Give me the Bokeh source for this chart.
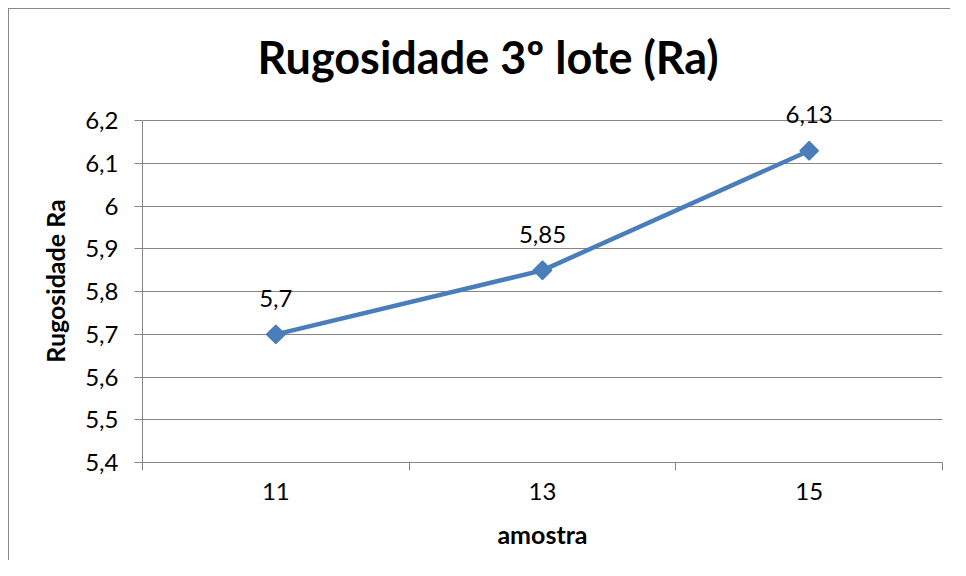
import math
from bokeh.plotting import figure
from bokeh.models import (Range1d, FixedTicker, CustomJSTickFormatter, ColumnDataSource, LabelSet)
from bokeh.core.properties import value
from bokeh.embed import file_html
from bokeh.resources import INLINE

title_text = "Rugosidade 3º lote (Ra)"
categories = ["11", "13", "15"]
values = [5.7, 5.85, 6.13]
y_ticks = [5.4, 5.5, 5.6, 5.7, 5.8, 5.9, 6.0, 6.1, 6.2]
x_label = "amostra"
y_label = "Rugosidade Ra"

FONT = "Lato"
GRAY = "#868686"
BLUE = "#4a7ebb"

xs = list(range(len(categories)))
labels = [str(v).replace(".", ",") for v in values]
src = ColumnDataSource(dict(x=xs, y=values, label=labels))

p = figure(width=950, height=560, output_backend="svg", toolbar_location=None,
           x_range=Range1d(-0.5, len(categories) - 0.5),
           y_range=Range1d(y_ticks[0], y_ticks[-1] + 0.05),
           min_border_left=142, min_border_right=8, min_border_top=99, min_border_bottom=98)
p.outline_line_color = None
p.background_fill_color = "white"
p.border_fill_color = None

# outer chart border (left and top visible), drawn behind the transparent canvas
p.styles = {
    "background-color": "white",
    "background-image": "linear-gradient(#888888, #888888), linear-gradient(#888888, #888888)",
    "background-size": "1px 100%, 100% 1px",
    "background-position": "8px 8px, 8px 8px",
    "background-repeat": "no-repeat",
}

p.title.text = title_text
p.title.text_font = FONT
p.title.text_font_style = "bold"
p.title.text_font_size = "45px"
p.title.align = "left"
p.title.offset = 115
p.title.standoff = 31
p.title.text_color = "black"

# x axis
xa = p.xaxis[0]
xa.ticker = FixedTicker(ticks=xs, minor_ticks=[i - 0.5 for i in range(len(categories) + 1)])
xa.major_label_overrides = {i: c for i, c in enumerate(categories)}
xa.major_tick_line_color = None
xa.minor_tick_line_color = GRAY
xa.minor_tick_out = 8
xa.minor_tick_in = 0
xa.axis_line_color = GRAY
xa.major_label_text_font = FONT
xa.major_label_text_font_size = "24px"
xa.major_label_text_color = "black"
xa.major_label_standoff = 12
xa.axis_label = x_label
xa.axis_label_text_font = FONT
xa.axis_label_text_font_size = "25px"
xa.axis_label_text_font_style = "bold"
xa.axis_label_text_color = "black"
xa.axis_label_standoff = 16

# y axis
ya = p.yaxis[0]
ya.bounds = (y_ticks[0], y_ticks[-1])
ya.ticker = FixedTicker(ticks=y_ticks, minor_ticks=[])
ya.formatter = CustomJSTickFormatter(code="return (Math.round(tick*10)/10).toString().replace('.', ',');")
ya.major_tick_line_color = GRAY
ya.major_tick_out = 8
ya.major_tick_in = 0
ya.axis_line_color = GRAY
ya.major_label_text_font = FONT
ya.major_label_text_font_size = "24px"
ya.major_label_text_color = "black"
ya.major_label_standoff = 16
ya.axis_label = y_label
ya.axis_label_text_font = FONT
ya.axis_label_text_font_size = "25px"
ya.axis_label_text_font_style = "bold"
ya.axis_label_text_color = "black"
ya.axis_label_standoff = 12

p.xgrid.grid_line_color = None
p.ygrid.ticker = FixedTicker(ticks=y_ticks)
p.ygrid.grid_line_color = GRAY
p.ygrid.grid_line_width = 1

p.line("x", "y", source=src, line_color=BLUE, line_width=4.5)
p.scatter("x", "y", source=src, marker="square", angle=math.pi / 4, size=13,
          fill_color=BLUE, line_color=BLUE, line_width=1.5)

ls = LabelSet(x="x", y="y", text="label", source=src, y_offset=36, text_align="center",
              text_baseline="middle", text_font=value(FONT), text_font_size=value("24px"),
              text_color="black")
p.add_layout(ls)

open("out.html", "w").write(file_html(p, INLINE))
